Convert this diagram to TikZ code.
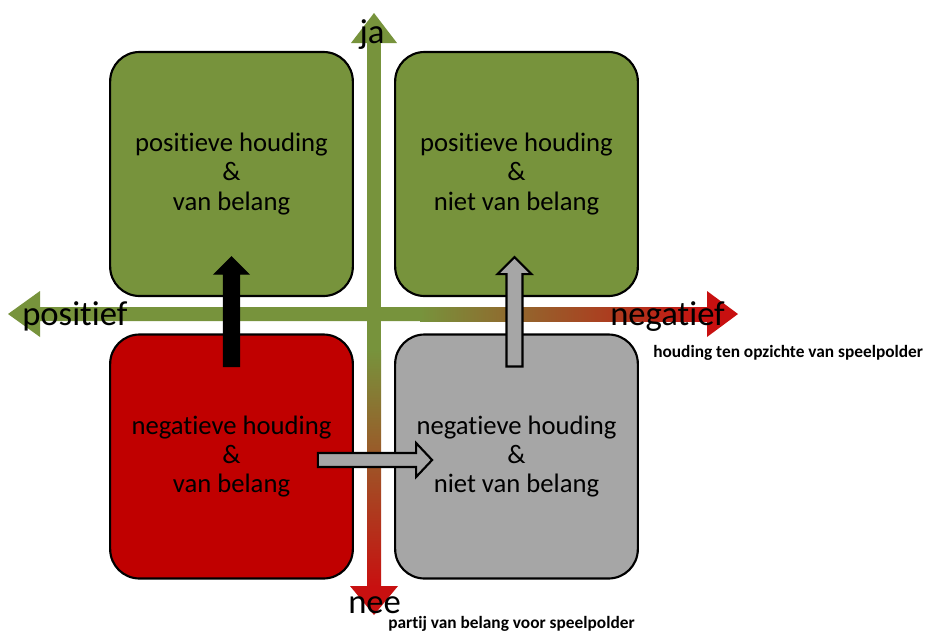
\documentclass[tikz,border=0pt]{standalone}
\usepackage{fontspec}
\setmainfont[Ligatures={NoCommon,NoContextual}]{Carlito}
\usetikzlibrary{calc}

\definecolor{olive}{HTML}{77933C}
\definecolor{boxred}{HTML}{C00000}
\definecolor{boxgray}{HTML}{A6A6A6}
\definecolor{axred}{HTML}{C81010}

\tikzset{
  quadrant/.style={draw=black, line width=1.6pt, rounded corners=22pt,
    minimum width=182pt, minimum height=183pt, align=center,
    font=\fontsize{20}{21.8}\selectfont, inner sep=0pt},
  axislabel/.style={font=\fontsize{26}{28}\selectfont, inner sep=0pt, anchor=base west},
  axistitle/.style={font=\bfseries\fontsize{13}{14}\selectfont, inner sep=0pt, anchor=base west},
  blackblock/.style={fill=black, draw=black, line width=1pt, line join=miter},
  grayblock/.style={fill=boxgray, draw=black, line width=1.6pt, line join=miter},
}

% block arrow pointing up from #2 to the tip #3
\newcommand{\vblockarrow}[3]{%
  \draw[#1] ($(#2)+(-8,0)$) -- ($(#3)+(-8,17)$) -- ($(#3)+(-17,17)$) -- (#3)
    -- ($(#3)+(17,17)$) -- ($(#3)+(8,17)$) -- ($(#2)+(8,0)$) -- cycle;}
% block arrow pointing right from #2 to the tip #3
\newcommand{\hblockarrow}[3]{%
  \draw[#1] ($(#2)+(0,-7)$) -- ($(#3)+(-16,-7)$) -- ($(#3)+(-16,-17)$) -- (#3)
    -- ($(#3)+(-16,17)$) -- ($(#3)+(-16,7)$) -- ($(#2)+(0,7)$) -- cycle;}

\begin{document}
\begin{tikzpicture}[x=0.75pt,y=-0.75pt]
\useasboundingbox (0,0) rectangle (929,637);
\fill[white] (0,0) rectangle (929,637);

% horizontal axis: attitude, green on the left fading to red on the right
\fill[olive] (8,314) -- (40,291) -- (40,307) -- (421,307) -- (421,321) -- (40,321) -- (40,337) -- cycle;
\shade[left color=olive, right color=axred] (420,307) rectangle (708,321);
\fill[axred] (738,314) -- (707,291) -- (707,337) -- cycle;

% vertical axis: stakeholder, green at the top fading to red at the bottom
\fill[olive] (374,13) -- (351,43) -- (397,43) -- cycle;
\fill[olive] (367,42) rectangle (381,351);
\shade[top color=olive, bottom color=axred] (367,350) rectangle (381,587);
\fill[axred] (374,615) -- (350,586) -- (398,586) -- cycle;

% the four quadrants
\node[quadrant, fill=olive]    (pv) at (231.5,174)   {positieve houding\\\&\\van belang};
\node[quadrant, fill=olive]    (pn) at (516.5,174)   {positieve houding\\\&\\niet van belang};
\node[quadrant, fill=boxred]   (nv) at (231.5,456.5) {negatieve houding\\\&\\van belang};
\node[quadrant, fill=boxgray]  (nn) at (516.5,456.5) {negatieve houding\\\&\\niet van belang};

% axis labels
\node[axislabel, anchor=base] (ja) at (372,43) {ja};
\node[axislabel] (pos) at (22,325) {positief};
\node[axislabel] (neg) at (610,325) {negatief};
\node[axislabel] (nee) at (348,613) {nee};
\node[axistitle] (htitle) at (653,357) {houding ten opzichte van speelpolder};
\node[axistitle] (vtitle) at (388,628) {partij van belang voor speelpolder};

% transitions between the quadrants
\coordinate (a1s) at ($(nv.north)+(0,33)$);
\coordinate (a1e) at ($(pv.south)+(0,-40)$);
\vblockarrow{blackblock}{a1s}{a1e}
\coordinate (a2s) at ($(nn.north)+(-2,33)$);
\coordinate (a2e) at ($(pn.south)+(-2,-40)$);
\vblockarrow{grayblock}{a2s}{a2e}
\coordinate (a3s) at ($(nv.east)+(-36,3.5)$);
\coordinate (a3e) at ($(nn.west)+(38,3.5)$);
\hblockarrow{grayblock}{a3s}{a3e}
\end{tikzpicture}
\end{document}
